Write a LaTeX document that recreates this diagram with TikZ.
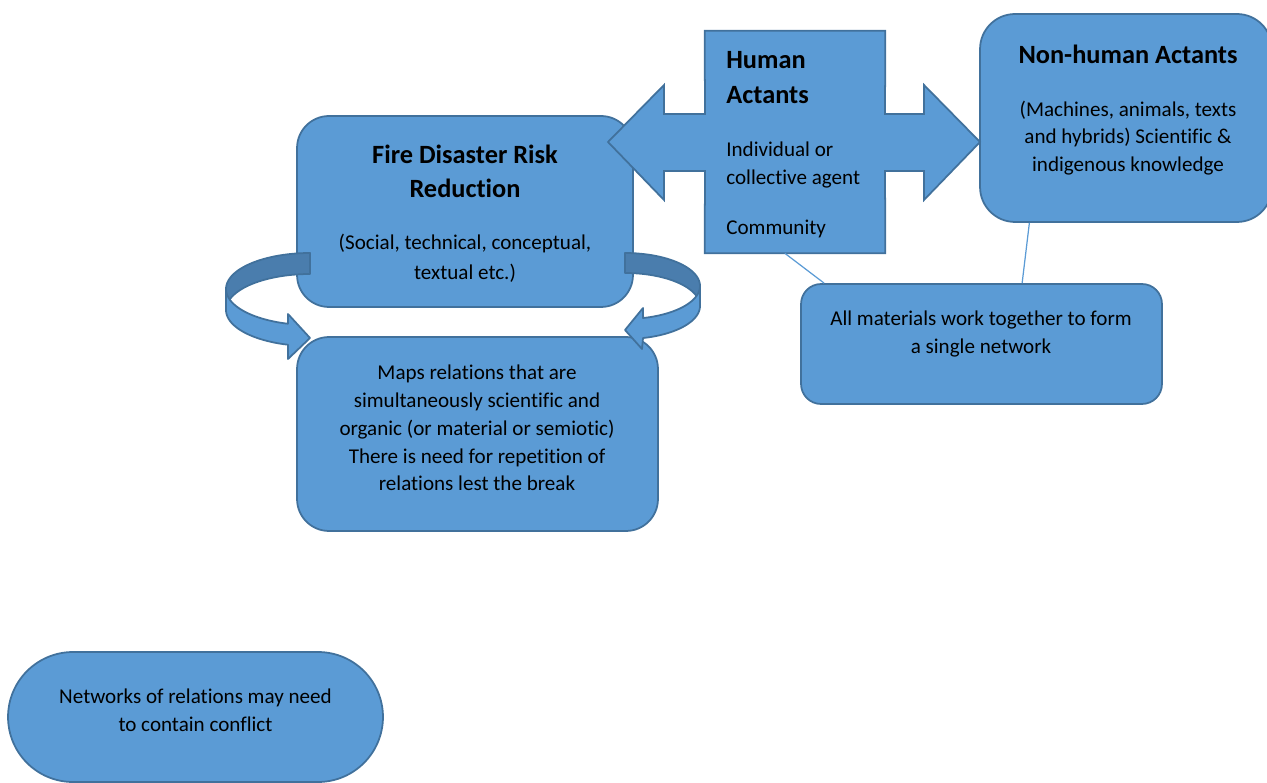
\documentclass[tikz,border=0pt]{standalone}
\usepackage{fontspec}
\setmainfont{Carlito}[Ligatures=CommonOff]
\usepackage{tikz}
\usetikzlibrary{calc, positioning}
\definecolor{kasten}{HTML}{5B9BD5}
\definecolor{rand}{HTML}{41719C}
\definecolor{schatten}{HTML}{4A7DAD}
\definecolor{linie}{HTML}{5B9BD5}
\newcommand{\grund}{\fontsize{12}{15.8}\selectfont}
\newcommand{\titel}{\fontsize{15}{19.3}\selectfont\bfseries}

\begin{document}
\begin{tikzpicture}[
        x=0.02cm, y=-0.02cm,
        feld/.style={draw=rand, fill=kasten, line width=1pt},
        txt/.style={align=center, font=\grund, inner sep=0pt},
        band/.style={draw=rand, line width=1pt, line join=round},
        verbinder/.style={draw=linie, line width=0.7pt},
      ]
      \useasboundingbox (0,0) rectangle (1267,783);

      % Kaesten (nur Rahmen)
      \node[feld, rounded corners=0.64cm, minimum width=6.72cm, minimum height=3.82cm]
        (fire) at (465,211.5) {};
      \node[feld, rounded corners=0.64cm, minimum width=7.22cm, minimum height=3.88cm]
        (maps) at (477.5,434) {};
      \node[feld, rounded corners=0.4cm, minimum width=7.22cm, minimum height=2.4cm]
        (mats) at (981.5,344) {};
      \node[feld, rounded corners=1.3cm, minimum width=7.5cm, minimum height=2.6cm]
        (netz) at (195.5,717) {};
      \node[feld, rounded corners=0.7cm, minimum width=5.84cm, minimum height=4.16cm]
        (nonhuman) at (1126,118) {};
      \node[minimum width=3.6cm, minimum height=4.44cm, inner sep=0pt]
        (human) at (795,142) {};

      % Doppelpfeil um Human Actants
      \draw[feld, line join=miter]
        (human.north west) -- (human.north east) -- (885,114) -- (924,114) -- (924,85)
        -- (980,142) -- (924,200) -- (924,171) -- (885,171) -- (human.south east)
        -- (human.south west) -- (705,171) -- (664,171) -- (664,200) -- (608,142)
        -- (664,85) -- (664,114) -- (705,114) -- cycle;

      % Verbindungslinien
      \draw[verbinder] ($(human.south west)!0.444!(human.south east)$)
        -- ($(mats.north west)!0.066!(mats.north east)$);
      \draw[verbinder] ($(nonhuman.south west)!0.171!(nonhuman.south east)$)
        -- ($(mats.north west)!0.612!(mats.north east)$);

      % gebogene Pfeile links und rechts
      \fill[schatten, band]
        plot[domain=270:180, samples=30] ({310+84*cos(\x)}, {289+36*sin(\x)})
        -- plot[domain=180:270, samples=30] ({310+84*cos(\x)}, {310+36*sin(\x)}) -- cycle;
      \fill[kasten, band]
        plot[domain=180:105.2, samples=30] ({310+84*cos(\x)}, {289+36*sin(\x)})
        -- (288,314) -- (310,338) -- (288,359)
        -- plot[domain=105.2:180, samples=30] ({310+84*cos(\x)}, {310+36*sin(\x)}) -- cycle;

      \fill[schatten, band]
        plot[domain=270:360, samples=30] ({625+75*cos(\x)}, {286+33*sin(\x)})
        -- plot[domain=360:270, samples=30] ({625+75*cos(\x)}, {306+33*sin(\x)}) -- cycle;
      \fill[kasten, band]
        plot[domain=0:76.1, samples=30] ({625+75*cos(\x)}, {286+33*sin(\x)})
        -- (643,308) -- (625,330) -- (642,349)
        -- plot[domain=76.1:0, samples=30] ({625+75*cos(\x)}, {306+33*sin(\x)}) -- cycle;

      % Texte
      \node[txt] (fire text) at (465,214)
        {{\titel Fire Disaster Risk}\\[3.5pt]{\titel Reduction}\\[13.7pt]
         (Social, technical, conceptual,\\[1.2pt]textual etc.)};
      \node[txt, align=left, anchor=west] (human text) at (726,144.5)
        {{\titel Human}\\[4.5pt]{\titel Actants}\\[14.2pt]
         Individual or\\collective agent\\[12.6pt]Community};
      \node[txt] (nonhuman text) at (1128,110)
        {{\titel Non-human Actants}\\[14.2pt]
         (Machines, animals, texts\\and hybrids) Scientific \&\\indigenous knowledge};
      \node[txt] (maps text) at (477,428)
        {Maps relations that are\\simultaneously scientific and\\organic (or material or semiotic)\\
         There is need for repetition of\\relations lest the break};
      \node[txt] (mats text) at (981,334)
        {All materials work together to form\\a single network};
      \node[txt] (netz text) at (195.5,710.5)
        {Networks of relations may need\\to contain conflict};
    \end{tikzpicture}
\end{document}
